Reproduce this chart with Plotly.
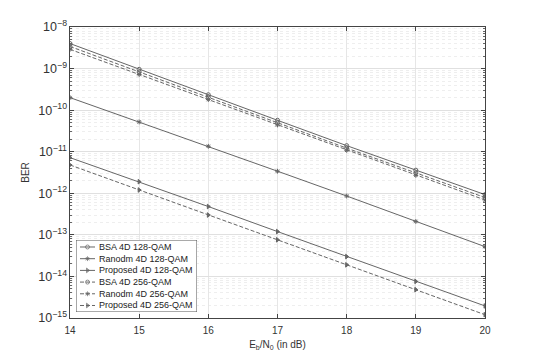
import plotly.graph_objects as go

ebn0 = [14, 15, 16, 17, 18, 19, 20]
bsa_128 = [4.0e-9, 9.6e-10, 2.35e-10, 5.7e-11, 1.4e-11, 3.6e-12, 9.3e-13]
random_128 = [2.0e-10, 5.2e-11, 1.35e-11, 3.4e-12, 8.6e-13, 2.1e-13, 5.2e-14]
proposed_128 = [7.2e-12, 1.9e-12, 4.8e-13, 1.2e-13, 3.0e-14, 7.6e-15, 1.95e-15]
bsa_256 = [3.4e-9, 8.3e-10, 2.05e-10, 5.0e-11, 1.22e-11, 3.1e-12, 7.9e-13]
random_256 = [2.9e-9, 7.2e-10, 1.8e-10, 4.4e-11, 1.08e-11, 2.7e-12, 6.9e-13]
proposed_256 = [4.8e-12, 1.2e-12, 3.0e-13, 7.6e-14, 1.9e-14, 4.8e-15, 1.2e-15]

names = ["BSA 4D 128-QAM", "Ranodm 4D 128-QAM", "Proposed 4D 128-QAM",
         "BSA 4D 256-QAM", "Ranodm 4D 256-QAM", "Proposed 4D 256-QAM"]
series = [bsa_128, random_128, proposed_128, bsa_256, random_256, proposed_256]
symbols = ["circle-open", "asterisk-open", "triangle-right", "circle-open", "asterisk-open", "triangle-right"]
dashes = ["solid", "solid", "solid", "4px,2px", "4px,2px", "4px,2px"]

col = "#666666"
fig = go.Figure()
for n, s, sym, d in zip(names, series, symbols, dashes):
    fig.add_trace(go.Scatter(
        x=ebn0, y=s, name=n, mode="lines+markers", showlegend=False,
        line=dict(color=col, width=1, dash=d),
        marker=dict(symbol=sym, size=4, color=col, line=dict(color=col, width=1)),
    ))

# compact MATLAB-style legend drawn on an auxiliary unit axis
lx0, lx1, ly0, ly1 = 0.0145, 0.306, 0.0206, 0.268
fig.add_trace(go.Scatter(
    x=[0, 1, 1, 0, 0], y=[0, 0, 1, 1, 0], xaxis="x2", yaxis="y2",
    mode="lines", fill="toself", fillcolor="white", showlegend=False, hoverinfo="skip",
    line=dict(color="#555555", width=1),
))
row_step = 0.1625
for i, (n, sym, d) in enumerate(zip(names, symbols, dashes)):
    yy = 0.903 - row_step * i
    fig.add_trace(go.Scatter(
        x=[0.033, 0.095, 0.157], y=[yy, yy, yy], xaxis="x2", yaxis="y2",
        mode="lines+markers", showlegend=False, hoverinfo="skip",
        line=dict(color=col, width=1, dash=d),
        marker=dict(symbol=sym, size=[0, 4, 0], color=col, line=dict(color=col, width=1)),
    ))
    fig.add_annotation(x=0.17, y=yy, xref="x2", yref="y2", text=n, showarrow=False,
                       xanchor="left", yanchor="middle",
                       font=dict(size=9, color="#222222"))

fig.update_layout(
    width=519, height=343,
    margin=dict(l=62, r=42, t=19, b=33, autoexpand=False),
    paper_bgcolor="white", plot_bgcolor="white",
    font=dict(family="Liberation Sans, Arial, sans-serif", size=10, color="#333333"),
    showlegend=False,
    xaxis=dict(
        range=[14, 20], dtick=1, showgrid=True, gridcolor="#e6e6e6", gridwidth=1,
        showline=True, linecolor="#444444", linewidth=1, mirror="ticks",
        ticks="inside", ticklen=4, tickcolor="#444444", zeroline=False, automargin=False,
        ticklabelstandoff=3,
        title=dict(text="E<sub>b</sub>/N<sub>0</sub> (in dB)", standoff=5, font=dict(size=10)),
    ),
    yaxis=dict(
        type="log", range=[-15, -8], dtick=1, exponentformat="power",
        showgrid=True, gridcolor="#e0e0e0", gridwidth=1,
        minor=dict(showgrid=True, gridcolor="#eeeeee", griddash="dot", ticks="inside", ticklen=2, tickcolor="#666666"),
        showline=True, linecolor="#444444", linewidth=1, mirror="ticks",
        ticks="inside", ticklen=4, tickcolor="#444444", zeroline=False, automargin=False,
        title=dict(text="BER", standoff=6, font=dict(size=10)),
    ),
    xaxis2=dict(domain=[lx0, lx1], range=[0, 1], anchor="y2", showgrid=False, zeroline=False,
                showticklabels=False, ticks="", showline=False, fixedrange=True),
    yaxis2=dict(domain=[ly0, ly1], range=[0, 1], anchor="x2", showgrid=False, zeroline=False,
                showticklabels=False, ticks="", showline=False, fixedrange=True),
)

fig.write_html("out.html")
